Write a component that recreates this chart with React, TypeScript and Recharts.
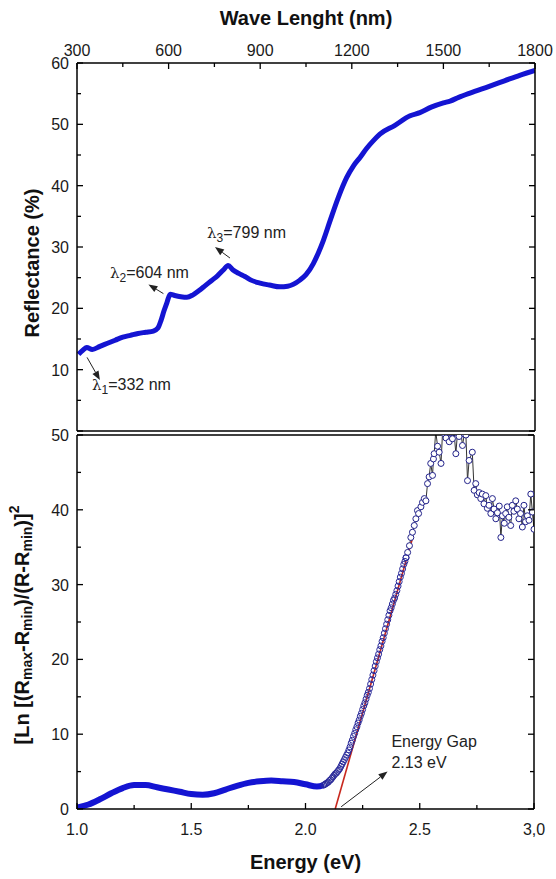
import React from 'react';
import { ComposedChart, Line, XAxis, YAxis, ReferenceLine, ReferenceDot } from 'recharts';

const FONT = '"Liberation Sans", Arial, sans-serif';
const BLUE = '#1414d2';

// top panel: reflectance vs wavelength
const waveNm = [305, 320, 332, 350, 375, 400, 425, 450, 475, 500, 525, 550, 565, 575, 585, 595, 605, 620, 640, 660, 680, 700, 720, 740, 760, 780, 795, 810, 830, 850, 870, 900, 930, 965, 990, 1030, 1050, 1074, 1090, 1107, 1129, 1156, 1183, 1205, 1227, 1249, 1270, 1292, 1340, 1391, 1423, 1460, 1500, 1522, 1550, 1587, 1650, 1700, 1750, 1800];
const reflectance = [12.5, 13.2, 13.6, 13.3, 13.8, 14.3, 14.8, 15.3, 15.6, 15.9, 16.1, 16.3, 16.8, 18.0, 19.6, 21.0, 22.3, 22.1, 21.9, 21.8, 22.2, 22.9, 23.7, 24.5, 25.3, 26.3, 27.0, 26.3, 25.7, 25.2, 24.6, 24.1, 23.8, 23.5, 23.6, 24.6, 25.5, 27.3, 29.0, 31.1, 34.3, 38.1, 41.3, 43.2, 44.6, 46.1, 47.3, 48.4, 49.8, 51.4, 51.9, 52.8, 53.5, 53.8, 54.4, 55.1, 56.2, 57.1, 58.0, 58.8];
const waveTicks = [300, 450, 600, 750, 900, 1050, 1200, 1350, 1500, 1650, 1800];
const waveMajor = [300, 600, 900, 1200, 1500, 1800];
const reflTicks = [0, 5, 10, 15, 20, 25, 30, 35, 40, 45, 50, 55, 60];
const reflMajor = [0, 10, 20, 30, 40, 50, 60];
const reflLabels = ['', '10', '20', '30', '40', '50', '60'];

// peak markers: label text, label anchor, arrow start/end (data units)
const peaks = [
  { sub: '1', text: '=332 nm', at: [349, 6.7], from: [333, 12.0], to: [375, 8.3] },
  { sub: '2', text: '=604 nm', at: [408, 24.9], from: [583, 22.4], to: [534, 23.9] },
  { sub: '3', text: '=799 nm', at: [726, 31.4], from: [801, 28.2], to: [752, 30.0] },
];

// bottom panel: smooth part (dense band)
const bandEnergy = [1.0, 1.05, 1.1, 1.15, 1.2, 1.25, 1.3, 1.35, 1.4, 1.45, 1.5, 1.55, 1.6, 1.65, 1.7, 1.75, 1.8, 1.85, 1.9, 1.95, 2.0, 2.05, 2.08];
const bandValue = [0.2, 0.6, 1.3, 2.1, 2.8, 3.2, 3.2, 2.9, 2.6, 2.3, 2.0, 1.9, 2.1, 2.6, 3.1, 3.5, 3.7, 3.8, 3.7, 3.6, 3.3, 3.0, 3.2];

// bottom panel: packed circles along the absorption edge
const edgeEnergy = [
  2.080, 2.085, 2.090, 2.095, 2.100, 2.105, 2.110, 2.115, 2.120, 2.125, 2.130, 2.135, 2.140, 2.145, 2.150, 2.155, 2.160, 2.165, 2.170, 2.175,
  2.180, 2.185, 2.190, 2.195, 2.200, 2.205, 2.210, 2.215, 2.220, 2.225, 2.230, 2.235, 2.240, 2.245, 2.250, 2.255, 2.260, 2.265, 2.270, 2.275,
  2.280, 2.285, 2.290, 2.295, 2.300, 2.305, 2.310, 2.315, 2.320, 2.325, 2.330, 2.335, 2.340, 2.345, 2.350, 2.355, 2.360, 2.365, 2.370, 2.375,
  2.380, 2.385, 2.390, 2.395, 2.400, 2.405, 2.410, 2.415, 2.420, 2.425, 2.430, 2.435, 2.440];
const edgeValue = [
  3.2, 3.3, 3.4, 3.5, 3.6, 3.8, 3.9, 4.1, 4.3, 4.5, 4.7, 4.8, 5.0, 5.2, 5.4, 5.7, 6.0, 6.3, 6.6, 6.9,
  7.2, 7.5, 7.9, 8.3, 8.8, 9.2, 9.7, 10.1, 10.6, 11.0, 11.5, 11.9, 12.4, 12.8, 13.3, 13.8, 14.2, 14.7, 15.2, 15.6,
  16.1, 16.7, 17.3, 17.9, 18.5, 19.1, 19.7, 20.2, 20.7, 21.3, 21.8, 22.4, 22.9, 23.5, 24.1, 24.7, 25.3, 25.9, 26.5, 26.9,
  27.4, 27.9, 28.2, 28.7, 29.2, 29.8, 30.4, 31.0, 31.5, 32.1, 32.7, 33.1, 33.6];

// bottom panel: scattered circles above the edge, joined by a thin line
const noisyEnergy = [2.44,
  2.447, 2.455, 2.461, 2.468, 2.476, 2.483, 2.49, 2.495, 2.505, 2.512, 2.52, 2.527, 2.534, 2.541, 2.548, 2.556, 2.56, 2.563, 2.57, 2.578, 2.585, 2.593, 2.6, 2.607, 2.615, 2.629, 2.636, 2.643, 2.65, 2.658, 2.665, 2.672, 2.68, 2.687, 2.695, 2.702,
  2.709, 2.716, 2.73, 2.738, 2.745, 2.752, 2.76, 2.767, 2.774, 2.781, 2.789, 2.796, 2.803, 2.811, 2.818, 2.825, 2.833, 2.84, 2.848, 2.855, 2.862, 2.87, 2.876, 2.883, 2.89, 2.898, 2.905, 2.912, 2.92, 2.927, 2.934, 2.941, 2.949, 2.956, 2.963, 2.971, 2.978, 2.986, 2.993, 3.0];
const noisyValue = [33.6,
  34.3, 35.2, 36.3, 37.0, 37.9, 38.8, 39.9, 39.5, 40.4, 41.0, 41.5, 41.2, 43.5, 44.4, 46.2, 44.6, 46.8, 47.5, 50.5, 48.5, 47.7, 46.2, 50.5, 50.2, 49.6, 49.1, 50.3, 49.5, 50.4, 47.5, 50.2, 49.8, 50.5, 48.6, 50.1, 50.0,
  43.9, 46.6, 47.7, 42.6, 43.5, 42.0, 42.3, 41.5, 42.1, 40.8, 41.9, 40.2, 40.6, 39.5, 41.5, 40.1, 38.8, 39.6, 40.5, 36.3, 39.2, 38.2, 39.5, 40.4, 39.0, 37.9, 40.6, 39.8, 41.2, 40.1, 38.8, 39.5, 37.7, 40.6, 38.4, 39.2, 38.6, 42.1, 39.7, 37.4];

const energyTicks = [1, 1.25, 1.5, 1.75, 2, 2.25, 2.5, 2.75, 3];
const energyMajor = [1, 1.5, 2, 2.5, 3];
const energyLabels = ['1.0', '1.5', '2.0', '2.5', '3,0'];
const gapTicks = [0, 5, 10, 15, 20, 25, 30, 35, 40, 45, 50];
const gapMajor = [0, 10, 20, 30, 40, 50];
const gapLabels = ['0', '10', '20', '30', '40', '50'];

const fitLine = [{ x: 2.13, y: 0 }, { x: 2.47, y: 36.4 }];
const gapArrow = [{ x: 2.156, y: 0.3 }, { x: 2.359, y: 5.0 }];

const reflRows = waveNm.map((w, i) => ({ w, r: reflectance[i] }));
const bandRows = bandEnergy.map((e, i) => ({ e, v: bandValue[i] }));
const edgeRows = edgeEnergy.map((e, i) => ({ e, v: edgeValue[i] }));
const noisyRows = noisyEnergy.map((e, i) => ({ e, v: noisyValue[i] }));

const axisStroke = { stroke: '#000', strokeWidth: 1.5 };
const textStyle = { fontFamily: FONT, fontSize: 16, fill: '#1a1a1a' };

type Side = 'top' | 'bottom' | 'left' | 'right';

// ticks drawn pointing into the plot, labels outside
const inTick = (side: Side, majors: number[], labels?: string[]) => (props: any) => {
  const { x, y, payload } = props;
  const i = majors.findIndex((m) => Math.abs(m - payload.value) < 1e-6);
  const len = i >= 0 ? 6 : 4;
  const txt = labels && i >= 0 ? labels[i] : '';
  let x2 = x, y2 = y, tx = x, ty = y;
  let anchor = 'middle';
  if (side === 'bottom') { y2 = y - len; ty = y + 26; }
  if (side === 'top') { y2 = y + len; ty = y - 7; }
  if (side === 'left') { x2 = x + len; tx = x - 8; ty = y + 6; anchor = 'end'; }
  if (side === 'right') { x2 = x - len; }
  return (
    <g>
      <line x1={x} y1={y} x2={x2} y2={y2} stroke="#000" strokeWidth={1.3} />
      {txt ? <text x={tx} y={ty} textAnchor={anchor} {...textStyle}>{txt}</text> : null}
    </g>
  );
};

const arrowShape = (p: any) => {
  const { x1, y1, x2, y2 } = p;
  const a = Math.atan2(y2 - y1, x2 - x1);
  const L = 9, W = 3.5;
  const bx = x2 - L * Math.cos(a);
  const by = y2 - L * Math.sin(a);
  const pts = `${x2},${y2} ${bx + W * Math.sin(a)},${by - W * Math.cos(a)} ${bx - W * Math.sin(a)},${by + W * Math.cos(a)}`;
  return (
    <g>
      <line x1={x1} y1={y1} x2={bx} y2={by} stroke="#222" strokeWidth={1} />
      <polygon points={pts} fill="#222" />
    </g>
  );
};

const annoStyle = { fontFamily: FONT, fontSize: 16, fill: '#222' };

const lambdaLabel = (sub: string, text: string) => (p: any) => (
  <text x={p.cx} y={p.cy} {...annoStyle}>
    <tspan fontFamily="'DejaVu Serif', serif" fontSize={15}>λ</tspan>
    <tspan dy={4} fontSize={12}>{sub}</tspan>
    <tspan dy={-4}>{text}</tspan>
  </text>
);

const plainLabel = (text: string) => (p: any) => (
  <text x={p.cx} y={p.cy} {...annoStyle}>{text}</text>
);

const titleStyle = { fontFamily: FONT, fontSize: 20, fontWeight: 'bold' as const, fill: '#111' };

export default function App() {
  return (
    <div style={{ position: 'absolute', left: 0, top: 0, width: 556, height: 879, background: '#fff' }}>
      <div style={{ position: 'absolute', left: 0, top: 0 }}>
        <ComposedChart width={556} height={433} margin={{ top: 0, right: 0, bottom: 0, left: 0 }}>
          <XAxis
            xAxisId="top" orientation="top" type="number" dataKey="w" domain={[300, 1800]} allowDataOverflow
            ticks={waveTicks} interval={0} tickSize={0} tickMargin={0} tickLine={false} axisLine={axisStroke} height={63}
            tick={inTick('top', waveMajor, waveMajor.map(String))}
            label={(p: any) => (
              <text x={p.viewBox.x + p.viewBox.width / 2} y={p.viewBox.y + 25} textAnchor="middle" {...titleStyle}>Wave Lenght (nm)</text>
            )}
          />
          <XAxis
            xAxisId="bot" orientation="bottom" type="number" domain={[300, 1800]} allowDataOverflow
            ticks={waveTicks} interval={0} tickSize={0} tickMargin={0} tickLine={false} axisLine={axisStroke} height={2}
            tick={inTick('bottom', waveMajor)}
          />
          <YAxis
            yAxisId="l" type="number" domain={[0, 60]} allowDataOverflow ticks={reflTicks} interval={0}
            tickSize={0} tickMargin={0} tickLine={false} axisLine={axisStroke} width={77}
            tick={inTick('left', reflMajor, reflLabels)}
            label={(p: any) => {
              const cx = p.viewBox.x + 32;
              const cy = p.viewBox.y + p.viewBox.height / 2 + 16;
              return (
                <text x={cx} y={cy} transform={`rotate(-90 ${cx} ${cy})`} textAnchor="middle" dominantBaseline="central" {...titleStyle}>Reflectance (%)</text>
              );
            }}
          />
          <YAxis
            yAxisId="r" orientation="right" type="number" domain={[0, 60]} allowDataOverflow ticks={reflTicks} interval={0}
            tickSize={0} tickMargin={0} tickLine={false} axisLine={axisStroke} width={21}
            tick={inTick('right', reflMajor)}
          />
          <Line
            xAxisId="top" yAxisId="l" data={reflRows} dataKey="r" type="monotone"
            stroke={BLUE} strokeWidth={5} dot={false} isAnimationActive={false}
          />
          {peaks.map((pk) => (
            <ReferenceLine
              key={'a' + pk.sub} xAxisId="top" yAxisId="l"
              segment={[{ x: pk.from[0], y: pk.from[1] }, { x: pk.to[0], y: pk.to[1] }]}
              shape={arrowShape}
            />
          ))}
          {peaks.map((pk) => (
            <ReferenceDot
              key={'t' + pk.sub} xAxisId="top" yAxisId="l" x={pk.at[0]} y={pk.at[1]}
              shape={lambdaLabel(pk.sub, pk.text)}
            />
          ))}
        </ComposedChart>
      </div>
      <div style={{ position: 'absolute', left: 0, top: 418 }}>
        <ComposedChart width={556} height={461} margin={{ top: 0, right: 0, bottom: 0, left: 0 }}>
          <XAxis
            xAxisId="top" orientation="top" type="number" domain={[1, 3]} allowDataOverflow
            ticks={energyTicks} interval={0} tickSize={0} tickMargin={0} tickLine={false} axisLine={axisStroke} height={17}
            tick={inTick('top', energyMajor)}
          />
          <XAxis
            xAxisId="bot" orientation="bottom" type="number" dataKey="e" domain={[1, 3]} allowDataOverflow
            ticks={energyTicks} interval={0} tickSize={0} tickMargin={0} tickLine={false} axisLine={axisStroke} height={70}
            tick={inTick('bottom', energyMajor, energyLabels)}
            label={(p: any) => (
              <text x={p.viewBox.x + p.viewBox.width / 2} y={p.viewBox.y + 60} textAnchor="middle" {...titleStyle}>Energy (eV)</text>
            )}
          />
          <YAxis
            yAxisId="l" type="number" domain={[0, 50]} allowDataOverflow ticks={gapTicks} interval={0}
            tickSize={0} tickMargin={0} tickLine={false} axisLine={axisStroke} width={77}
            tick={inTick('left', gapMajor, gapLabels)}
            label={(p: any) => {
              const cx = p.viewBox.x + 22;
              const cy = p.viewBox.y + p.viewBox.height / 2 + 3;
              return (
                <text x={cx} y={cy} transform={`rotate(-90 ${cx} ${cy})`} textAnchor="middle" dominantBaseline="central" {...titleStyle}>
                  [Ln [(R<tspan dy={5} fontSize={14}>max</tspan>
                  <tspan dy={-5}>-R</tspan><tspan dy={5} fontSize={14}>min</tspan>
                  <tspan dy={-5}>)/(R-R</tspan><tspan dy={5} fontSize={14}>min</tspan>
                  <tspan dy={-5}>)]</tspan><tspan dy={-8} fontSize={14}>2</tspan>
                </text>
              );
            }}
          />
          <YAxis
            yAxisId="r" orientation="right" type="number" domain={[0, 50]} allowDataOverflow ticks={gapTicks} interval={0}
            tickSize={0} tickMargin={0} tickLine={false} axisLine={axisStroke} width={22}
            tick={inTick('right', gapMajor)}
          />
          <Line
            xAxisId="bot" yAxisId="l" data={bandRows} dataKey="v" type="monotone"
            stroke={BLUE} strokeWidth={6} dot={false} isAnimationActive={false}
          />
          <Line
            xAxisId="bot" yAxisId="l" data={noisyRows} dataKey="v" type="linear"
            stroke="#333" strokeWidth={1}
            dot={{ r: 3, stroke: '#22228a', strokeWidth: 1, fill: '#fff' }}
            isAnimationActive={false}
          />
          <Line
            xAxisId="bot" yAxisId="l" data={edgeRows} dataKey="v" type="linear"
            stroke="none"
            dot={{ r: 3, stroke: '#2a2a9a', strokeWidth: 1, fill: 'none' }}
            isAnimationActive={false}
          />
          <ReferenceLine
            xAxisId="bot" yAxisId="l" segment={fitLine} stroke="#c8281e" strokeWidth={1.6}
          />
          <ReferenceLine xAxisId="bot" yAxisId="l" segment={gapArrow} shape={arrowShape} />
          <ReferenceDot xAxisId="bot" yAxisId="l" x={2.376} y={8.3} shape={plainLabel('Energy Gap')} />
          <ReferenceDot xAxisId="bot" yAxisId="l" x={2.376} y={5.5} shape={plainLabel('2.13 eV')} />
        </ComposedChart>
      </div>
    </div>
  );
}
